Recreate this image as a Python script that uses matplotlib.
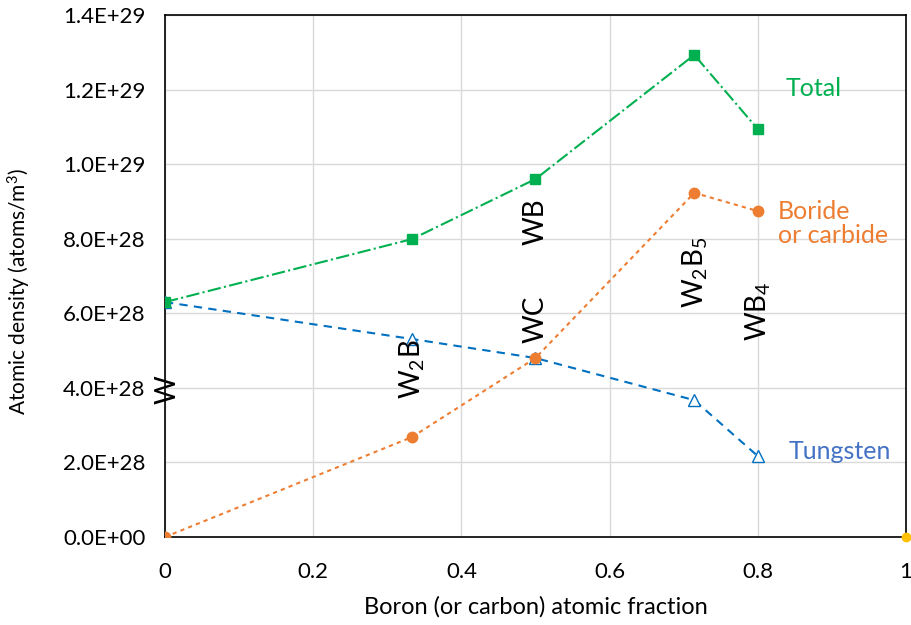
import matplotlib.pyplot as plt
from matplotlib.ticker import FuncFormatter

plt.rcParams['font.family'] = ['Lato', 'DejaVu Sans']
plt.rcParams['mathtext.default'] = 'regular'

# Boron (or carbon) atomic fraction of each phase
frac = [0, 1/3, 0.5, 5/7, 0.8]

# Atomic densities (atoms/m^3)
tungsten = [6.30e28, 5.31e28, 4.80e28, 3.67e28, 2.17e28]
boride = [0.0, 2.68e28, 4.80e28, 9.23e28, 8.74e28]
total = [6.30e28, 7.99e28, 9.60e28, 12.93e28, 10.94e28]

# Phase names placed along the curves
phase_names = ['W', 'W$_2$B', 'WC', 'WB', 'W$_2$B$_5$', 'WB$_4$']
phase_x = [0.004, 1/3, 0.5, 0.5, 0.716, 0.800]
phase_y = [3.94e28, 4.5e28, 5.85e28, 8.45e28, 7.1e28, 6.06e28]

green = '#00B050'
blue = '#0070C0'
orange = '#ED7D31'

fig = plt.figure(figsize=(9.11, 6.25), dpi=100)
ax = fig.add_axes([0.1811, 0.1408, 0.8134, 0.8352])

ax.plot(frac, total, color=green, linestyle='-.', linewidth=1.5,
        marker='s', markersize=7.5, zorder=4)
ax.plot(frac, tungsten, color=blue, linestyle=(0, (4, 3)), linewidth=1.5,
        marker='^', markersize=8.5, markerfacecolor='white',
        markeredgecolor=blue, zorder=3)
ax.plot(frac, boride, color=orange, linestyle=(0, (2, 2)), linewidth=1.5,
        marker='o', markersize=7.5, zorder=5)
# extra point at the far end of the axis
ax.plot([1], [0], color='#FFC000', marker='o', markersize=6,
        linestyle='none', clip_on=False, zorder=6)

for name, x, y in zip(phase_names, phase_x, phase_y):
    ax.text(x, y, name, rotation=90, ha='center', va='center',
            fontsize=20, color='black')

ax.text(0.876, 1.204e29, 'Total', color=green, fontsize=18,
        ha='center', va='center')
ax.text(0.827, 8.4e28, 'Boride\nor carbide', color=orange, fontsize=18,
        ha='left', va='center', linespacing=1.05)
ax.text(0.911, 2.28e28, 'Tungsten', color='#4472C4', fontsize=18,
        ha='center', va='center')

ax.set_xlim(0, 1)
ax.set_ylim(0, 1.4e29)
ax.set_xticks([0, 0.2, 0.4, 0.6, 0.8, 1])
ax.set_xticklabels(['0', '0.2', '0.4', '0.6', '0.8', '1'])
ax.set_yticks([i * 2e28 for i in range(8)])
ax.yaxis.set_major_formatter(FuncFormatter(lambda v, p: f'{v:.1E}'.replace('E+0', 'E+')
                                           if v else '0.0E+00'))
ax.tick_params(axis='both', length=0, labelsize=16)
ax.tick_params(axis='y', pad=14)
ax.tick_params(axis='x', pad=18)
ax.grid(True, color='#D9D9D9', linewidth=1)
ax.set_axisbelow(True)
for s in ax.spines.values():
    s.set_color('black')
    s.set_linewidth(1.2)

ax.set_xlabel('Boron (or carbon) atomic fraction', fontsize=17)
ax.set_ylabel('Atomic density (atoms/m$^3$)', fontsize=15)
ax.xaxis.set_label_coords(0.5, -0.113)
ax.yaxis.set_label_coords(-0.178, 0.47)

plt.savefig('out.png', dpi=100)
